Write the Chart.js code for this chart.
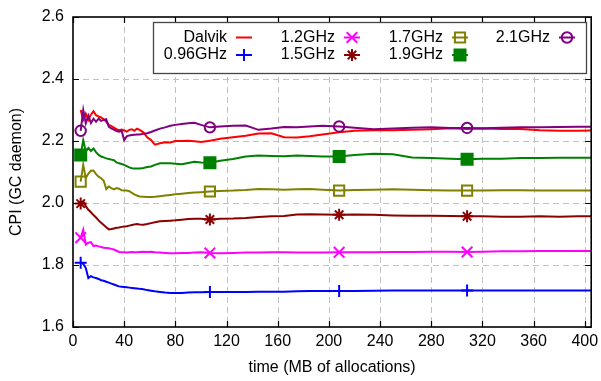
<!DOCTYPE html>
<html>
<head>
<meta charset="utf-8">
<title>CPI of the GC daemon</title>
<script src="https://cdn.jsdelivr.net/npm/chart.js@4.4.1/dist/chart.umd.min.js"></script>
<style>
  html, body { margin: 0; padding: 0; background: #fff; }
  canvas { display: block; }
</style>
</head>
<body>
<canvas id="c" width="601" height="381"></canvas>
<script>
// ---- data -------------------------------------------------------------
// sample positions (MB of allocations)
const allocMB = [6, 8, 10, 12, 14, 16, 18, 20, 22, 24, 26, 28, 30, 32, 34, 36, 38, 40, 42, 44,
  46, 48, 50, 52, 55, 58, 61, 64, 68, 72, 76, 80, 85, 90, 95, 100, 107, 115, 125, 135,
  145, 155, 165, 175, 185, 195, 208, 220, 235, 250, 265, 280, 295, 308, 320, 335, 350, 365, 380, 395, 405];

const cpiDalvik = [2.300, 2.268, 2.288, 2.268, 2.285, 2.296, 2.283, 2.279, 2.276, 2.270, 2.262, 2.252, 2.248, 2.243, 2.238, 2.235, 2.237, 2.234, 2.230, 2.236,
  2.238, 2.233, 2.240, 2.236, 2.228, 2.212, 2.203, 2.188, 2.193, 2.196, 2.195, 2.200, 2.200, 2.201, 2.199, 2.197, 2.201, 2.207, 2.212, 2.217,
  2.224, 2.225, 2.212, 2.211, 2.215, 2.221, 2.228, 2.233, 2.235, 2.235, 2.236, 2.238, 2.241, 2.239, 2.240, 2.239, 2.239, 2.235, 2.233, 2.233, 2.234];

const cpi096 = [1.807, 1.804, 1.790, 1.758, 1.764, 1.760, 1.758, 1.755, 1.751, 1.749, 1.746, 1.743, 1.740, 1.737, 1.734, 1.731, 1.730, 1.729, 1.728, 1.727,
  1.726, 1.725, 1.724, 1.723, 1.722, 1.719, 1.717, 1.715, 1.713, 1.711, 1.710, 1.710, 1.710, 1.711, 1.712, 1.712, 1.713, 1.713, 1.713, 1.713,
  1.714, 1.714, 1.714, 1.715, 1.716, 1.716, 1.716, 1.716, 1.717, 1.718, 1.718, 1.718, 1.718, 1.718, 1.718, 1.718, 1.718, 1.718, 1.718, 1.718, 1.718];

const cpi12 = [1.888, 1.914, 1.866, 1.872, 1.874, 1.861, 1.863, 1.860, 1.858, 1.856, 1.855, 1.854, 1.852, 1.850, 1.846, 1.842, 1.841, 1.841, 1.840, 1.841,
  1.842, 1.841, 1.841, 1.842, 1.843, 1.842, 1.843, 1.841, 1.840, 1.839, 1.838, 1.838, 1.839, 1.839, 1.840, 1.841, 1.839, 1.838, 1.839, 1.840,
  1.840, 1.841, 1.841, 1.840, 1.840, 1.840, 1.841, 1.841, 1.841, 1.842, 1.842, 1.843, 1.843, 1.842, 1.843, 1.844, 1.844, 1.845, 1.845, 1.845, 1.845];

const cpi15 = [1.998, 2.005, 1.990, 1.978, 1.970, 1.961, 1.953, 1.944, 1.936, 1.929, 1.922, 1.915, 1.916, 1.918, 1.920, 1.921, 1.923, 1.924, 1.925, 1.927,
  1.929, 1.931, 1.932, 1.931, 1.930, 1.932, 1.935, 1.938, 1.941, 1.942, 1.943, 1.944, 1.946, 1.948, 1.949, 1.949, 1.947, 1.949, 1.950, 1.952,
  1.955, 1.957, 1.958, 1.963, 1.964, 1.963, 1.962, 1.963, 1.962, 1.960, 1.959, 1.959, 1.958, 1.957, 1.957, 1.956, 1.956, 1.957, 1.956, 1.957, 1.957];

const cpi17 = [2.069, 2.123, 2.080, 2.095, 2.104, 2.105, 2.093, 2.085, 2.080, 2.072, 2.045, 2.053, 2.048, 2.044, 2.048, 2.046, 2.041, 2.040, 2.040, 2.038,
  2.033, 2.028, 2.024, 2.021, 2.020, 2.019, 2.019, 2.020, 2.022, 2.024, 2.026, 2.028, 2.030, 2.032, 2.034, 2.035, 2.037, 2.039, 2.040, 2.042,
  2.045, 2.044, 2.043, 2.044, 2.045, 2.043, 2.040, 2.042, 2.043, 2.044, 2.043, 2.041, 2.040, 2.040, 2.040, 2.041, 2.041, 2.040, 2.040, 2.040, 2.040];

const cpi19 = [2.155, 2.203, 2.166, 2.178, 2.168, 2.176, 2.164, 2.155, 2.150, 2.147, 2.144, 2.142, 2.140, 2.138, 2.131, 2.128, 2.126, 2.123, 2.119, 2.115,
  2.112, 2.111, 2.111, 2.111, 2.113, 2.116, 2.118, 2.123, 2.128, 2.128, 2.128, 2.127, 2.125, 2.129, 2.133, 2.131, 2.130, 2.136, 2.142, 2.150,
  2.153, 2.152, 2.151, 2.153, 2.152, 2.150, 2.150, 2.155, 2.159, 2.157, 2.147, 2.145, 2.143, 2.141, 2.143, 2.143, 2.145, 2.145, 2.146, 2.146, 2.146];

const cpi21 = [2.233, 2.300, 2.257, 2.282, 2.258, 2.272, 2.262, 2.272, 2.265, 2.268, 2.270, 2.246, 2.241, 2.237, 2.232, 2.230, 2.233, 2.203, 2.215, 2.218,
  2.219, 2.220, 2.221, 2.221, 2.223, 2.225, 2.229, 2.234, 2.240, 2.244, 2.249, 2.252, 2.255, 2.257, 2.259, 2.252, 2.244, 2.247, 2.249, 2.250,
  2.236, 2.240, 2.245, 2.244, 2.247, 2.249, 2.247, 2.243, 2.238, 2.240, 2.243, 2.244, 2.242, 2.242, 2.241, 2.243, 2.244, 2.244, 2.245, 2.246, 2.246];

// positions (MB) where a point symbol is placed on the curve
const markerMB = [6, 107, 208, 308];

const seriesLabels = ['Dalvik', '0.96GHz', '1.2GHz', '1.5GHz', '1.7GHz', '1.9GHz', '2.1GHz'];
const seriesValues = [cpiDalvik, cpi096, cpi12, cpi15, cpi17, cpi19, cpi21];

const xTickValues = [0, 40, 80, 120, 160, 200, 240, 280, 320, 360, 400];
const yTickValues = [1.6, 1.8, 2.0, 2.2, 2.4, 2.6];

// ---- styles -----------------------------------------------------------
const FONT = "'Liberation Sans', Arial, Helvetica, sans-serif";
const seriesColors = ['#ff0000', '#0000ff', '#ff00ff', '#8b0000', '#808000', '#008000', '#800080'];
const seriesSymbols = [null, 'cross', 'crossRot', 'star', 'rect', 'rect', 'circle'];
const symbolRadius = [0, 6, 7.5, 6, 7.2, 7.8, 5.2];
const symbolFilled = [false, false, false, false, false, true, false];

const datasets = seriesLabels.map((label, i) => ({
  label,
  data: allocMB.map((x, k) => ({ x, y: seriesValues[i][k] })),
  borderColor: seriesColors[i],
  backgroundColor: seriesColors[i],
  borderWidth: 2,
  tension: 0,
  fill: false,
  order: seriesLabels.length - i,
  pointStyle: seriesSymbols[i] || 'circle',
  pointBorderColor: seriesColors[i],
  pointBackgroundColor: symbolFilled[i] ? seriesColors[i] : 'rgba(0,0,0,0)',
  pointBorderWidth: 2,
  pointRadius: ctx => (seriesSymbols[i] && markerMB.includes(allocMB[ctx.dataIndex])) ? symbolRadius[i] : 0,
  pointHoverRadius: 0
}));

function drawSymbol(ctx, style, radius, filled, color, x, y) {
  ctx.save();
  ctx.strokeStyle = color;
  ctx.fillStyle = filled ? color : 'rgba(0,0,0,0)';
  ctx.lineWidth = 2;
  if (window.Chart && Chart.helpers && Chart.helpers.drawPoint) {
    Chart.helpers.drawPoint(ctx, { pointStyle: style, radius, rotation: 0, borderWidth: 2 }, x, y);
  }
  ctx.restore();
}

// dashed grid, frame with inward ticks, and the key box
const decorations = {
  id: 'decorations',
  beforeDatasetsDraw(chart) {
    const { ctx, chartArea: a, scales: { x, y } } = chart;
    ctx.save();
    ctx.strokeStyle = '#c2c2c2';
    ctx.lineWidth = 1;
    ctx.setLineDash([6, 4]);
    xTickValues.forEach(v => {
      const px = Math.round(x.getPixelForValue(v)) + 0.5;
      if (px <= a.left + 2 || px >= a.right - 2) return;
      ctx.beginPath(); ctx.moveTo(px, a.top); ctx.lineTo(px, a.bottom); ctx.stroke();
    });
    yTickValues.forEach(v => {
      const py = Math.round(y.getPixelForValue(v)) + 0.5;
      if (py <= a.top + 2 || py >= a.bottom - 2) return;
      ctx.beginPath(); ctx.moveTo(a.left, py); ctx.lineTo(a.right, py); ctx.stroke();
    });
    ctx.restore();
  },
  afterDatasetsDraw(chart) {
    const { ctx, chartArea: a, scales: { x, y } } = chart;
    ctx.save();
    // inward tick marks on all four sides
    ctx.strokeStyle = '#000';
    ctx.lineWidth = 1.2;
    const tl = 6;
    xTickValues.forEach(v => {
      const px = Math.round(x.getPixelForValue(v)) + 0.5;
      ctx.beginPath();
      ctx.moveTo(px, a.bottom); ctx.lineTo(px, a.bottom - tl);
      ctx.moveTo(px, a.top); ctx.lineTo(px, a.top + tl);
      ctx.stroke();
    });
    yTickValues.forEach(v => {
      const py = Math.round(y.getPixelForValue(v)) + 0.5;
      ctx.beginPath();
      ctx.moveTo(a.left, py); ctx.lineTo(a.left + tl, py);
      ctx.moveTo(a.right, py); ctx.lineTo(a.right - tl, py);
      ctx.stroke();
    });
    // plot frame
    ctx.lineWidth = 1.6;
    ctx.strokeRect(a.left, a.top, a.right - a.left, a.bottom - a.top);

    // key
    const box = { x: 153, y: 22, w: 433, h: 51 };
    ctx.fillStyle = '#fff';
    ctx.fillRect(box.x, box.y, box.w, box.h);
    ctx.strokeStyle = '#444';
    ctx.lineWidth = 1.3;
    ctx.strokeRect(box.x + 0.5, box.y + 0.5, box.w, box.h);

    const colTextEnd = [227, 335, 443, 550];
    const rowY = [37.5, 55];
    ctx.font = '16px ' + FONT;
    ctx.textAlign = 'right';
    ctx.textBaseline = 'middle';
    seriesLabels.forEach((label, i) => {
      const col = Math.floor(i / 2), row = i % 2;
      const tx = colTextEnd[col], ty = rowY[row];
      ctx.fillStyle = '#000';
      ctx.fillText(label, tx, ty);
      ctx.strokeStyle = seriesColors[i];
      ctx.lineWidth = 2;
      ctx.beginPath(); ctx.moveTo(tx + 9, ty); ctx.lineTo(tx + 25, ty); ctx.stroke();
      if (seriesSymbols[i]) drawSymbol(ctx, seriesSymbols[i], symbolRadius[i], symbolFilled[i], seriesColors[i], tx + 17, ty);
    });
    ctx.restore();
  }
};

new Chart(document.getElementById('c'), {
  type: 'line',
  data: { datasets },
  plugins: [decorations],
  options: {
    responsive: false,
    devicePixelRatio: 1,
    animation: false,
    layout: { padding: { left: 0, right: 8, top: 17, bottom: 0 } },
    plugins: { legend: { display: false }, tooltip: { enabled: false } },
    scales: {
      x: {
        type: 'linear',
        min: 0,
        max: 405,
        grid: { display: false, drawTicks: false },
        border: { display: false },
        afterBuildTicks: s => { s.ticks = xTickValues.map(value => ({ value })); },
        afterFit: s => { s.height = 54; s.paddingLeft = 0; s.paddingRight = 0; },
        ticks: { color: '#000', padding: 5, maxRotation: 0, autoSkip: false, font: { family: FONT, size: 16 } },
        title: { display: true, text: 'time (MB of allocations)', color: '#000', padding: { top: 0, bottom: 4 }, font: { family: FONT, size: 16 } }
      },
      y: {
        type: 'linear',
        min: 1.6,
        max: 2.6,
        grid: { display: false, drawTicks: false },
        border: { display: false },
        afterBuildTicks: s => { s.ticks = yTickValues.map(value => ({ value })); },
        afterFit: s => { s.width = 73; s.paddingTop = 0; s.paddingBottom = 0; },
        ticks: { color: '#000', padding: 9, autoSkip: false, font: { family: FONT, size: 16 }, callback: v => Number(v).toFixed(1) },
        title: { display: true, text: 'CPI (GC daemon)', color: '#000', padding: { top: 7, bottom: 0 }, font: { family: FONT, size: 16 } }
      }
    }
  }
});
</script>
</body>
</html>
